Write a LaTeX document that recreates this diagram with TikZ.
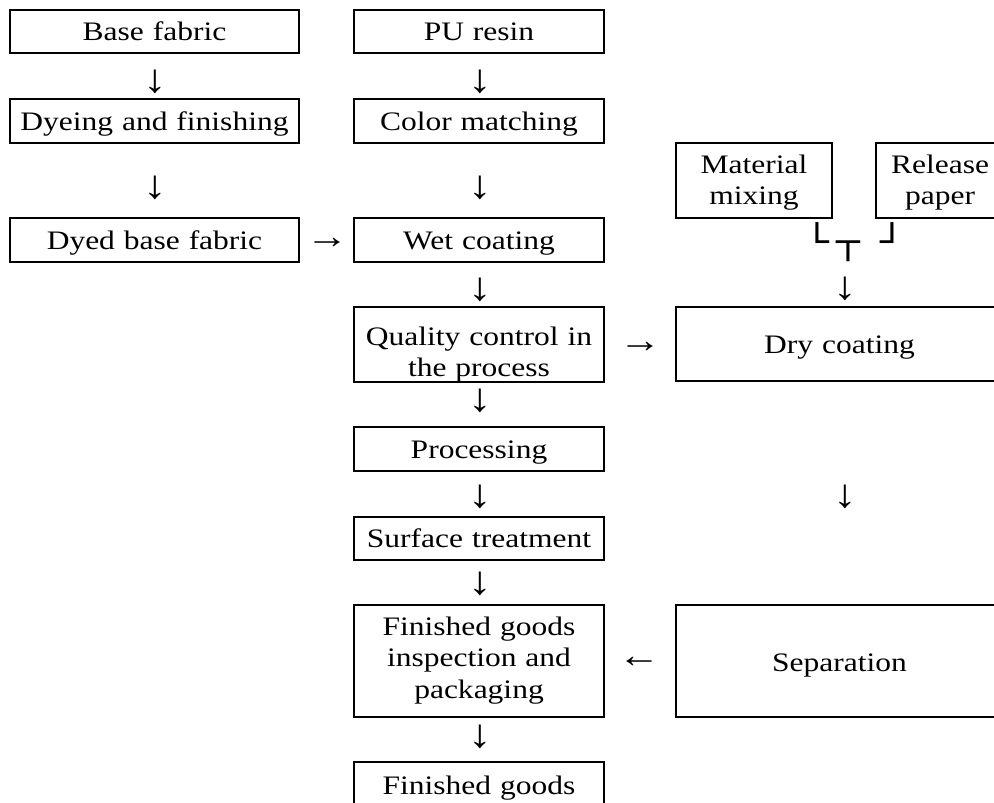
\documentclass[tikz,border=0pt]{standalone}
\usepackage{fontspec}
\setmainfont{Liberation Serif}[FakeStretch=1.18]
\newfontfamily\linefont{DejaVu Sans Mono}[FakeStretch=1.2]
\begin{document}
\begin{tikzpicture}[x=1pt,y=-1pt,
  every node/.style={inner sep=0pt},
  txt/.style={font=\fontsize{26.7}{31.5}\selectfont},
  % process box: first baseline sits (H-D)/2 below the box centre
  stage/.style n args={3}{txt, draw, line width=1.8pt, align=center,
    minimum width=#1, minimum height=#2, text width=#1-8pt,
    text height=20pt, text depth=#3},
  down/.style={font=\fontsize{40}{40}\selectfont},
  side/.style={font=\fontsize{36}{36}\selectfont},
  joint/.style={font=\linefont\fontsize{33}{40}\selectfont, anchor=base}]

\useasboundingbox (0,0) rectangle (994,803);
\fill[white] (0,0) rectangle (994,803);
\clip (0,0) rectangle (994,803);

% left column
\node[stage={289pt}{43pt}{2pt}] (base) at (154.5,31.5) {Base fabric};
\node[stage={289pt}{44pt}{2pt}] (dye)  at (154.5,121)  {Dyeing and finishing};
\node[stage={289pt}{44pt}{2pt}] (dyed) at (154.5,240)  {Dyed base fabric};

% middle column
\node[stage={250pt}{43pt}{2pt}]  (pu)    at (479,31.5)  {PU resin};
\node[stage={250pt}{44pt}{2pt}]  (color) at (479,121)   {Color matching};
\node[stage={250pt}{44pt}{2pt}]  (wet)   at (479,240)   {Wet coating};
\node[stage={250pt}{75pt}{19pt}] (qc)    at (479,344.5) {Quality control in\\the process};
\node[stage={250pt}{44pt}{2pt}]  (proc)  at (479,449)   {Processing};
\node[stage={250pt}{43pt}{2pt}]  (surf)  at (479,538.5) {Surface treatment};
\node[stage={250pt}{112pt}{72pt}] (fgi)  at (479,661)   {Finished goods\\inspection and\\packaging};
\node[stage={250pt}{44pt}{0pt}]  (fg)    at (479,784)   {Finished goods};

% right column
\node[stage={156pt}{75pt}{35pt}] (mix) at (754,180.5) {Material\\mixing};
\node[stage={128pt}{75pt}{35pt}] (rel) at (940,180.5) {Release\\paper};
\node[stage={327pt}{74pt}{2pt}]  (dry) at (839.5,344) {Dry coating};
\node[stage={327pt}{112pt}{0pt}] (sep) at (839.5,661) {Separation};

% flow arrows
\node[down] (a1)  at (155,82)  {↓};
\node[down] (a2)  at (155,188) {↓};
\node[side] (a3)  at (327,243) {→};
\node[down] (a4)  at (480,82)  {↓};
\node[down] (a5)  at (480,188) {↓};
\node[down] (a6)  at (480,290) {↓};
\node[side] (a7)  at (640,347) {→};
\node[down] (a8)  at (480,401) {↓};
\node[down] (a9)  at (480,497) {↓};
\node[down] (a10) at (480,584) {↓};
\node[side] (a11) at (639,662) {←};
\node[down] (a12) at (480,737) {↓};
\node[down] (a13) at (845,289) {↓};
\node[down] (a14) at (845,497) {↓};

% junction of the two inputs of the dry coating
\node[joint] (jl) at (817,253.5) {└};
\node[joint] (jm) at (848,253.5) {┬};
\node[joint] (jr) at (892,253.5) {┘};
\end{tikzpicture}
\end{document}
